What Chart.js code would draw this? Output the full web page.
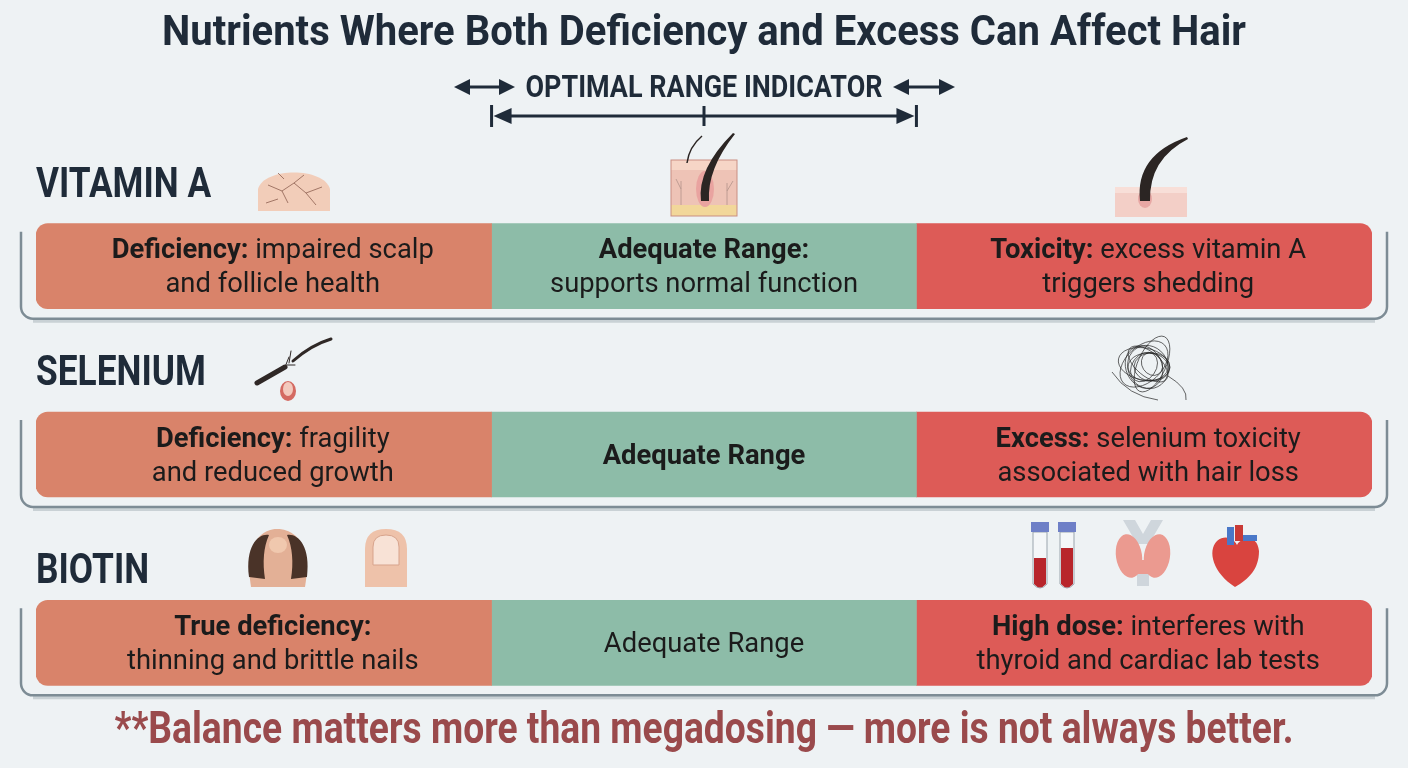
<!DOCTYPE html>
<html lang="en">
<head>
<meta charset="UTF-8">
<title>Nutrients Where Both Deficiency and Excess Can Affect Hair</title>
<script src="https://cdn.jsdelivr.net/npm/chart.js"></script>
<style>
  html, body { margin: 0; padding: 0; background: #eef2f4; }
  #wrap { width: 1408px; height: 768px; position: relative; }
</style>
</head>
<body>
<div id="wrap"><canvas id="chart"></canvas></div>
<script>
// nutrients, top to bottom
const nutrients = ['VITAMIN A', 'SELENIUM', 'BIOTIN'];
// width of each zone, 0-100 scale
const deficiencyZone = [34.1, 34.1, 34.1];
const adequateZone = [31.8, 31.8, 31.8];
const excessZone = [34.1, 34.1, 34.1];
// text shown in each zone, **bold** part marked
const deficiencyText = [
  ['**Deficiency:** impaired scalp', 'and follicle health'],
  ['**Deficiency:** fragility', 'and reduced growth'],
  ['**True deficiency:**', 'thinning and brittle nails']
];
const adequateText = [
  ['**Adequate Range:**', 'supports normal function'],
  ['**Adequate Range**'],
  ['Adequate Range']
];
const excessText = [
  ['**Toxicity:** excess vitamin A', 'triggers shedding'],
  ['**Excess:** selenium toxicity', 'associated with hair loss'],
  ['**High dose:** interferes with', 'thyroid and cardiac lab tests']
];

const FONT = 'Roboto, "Liberation Sans", sans-serif';
const INK = '#1f2b39';

// draw text squeezed to a given width (the original uses a condensed face)
function fitText(ctx, text, cx, baseY, size, width, color) {
  ctx.save();
  ctx.font = 'bold ' + size + 'px ' + FONT;
  const w = ctx.measureText(text).width;
  ctx.translate(cx, baseY);
  ctx.scale(width / w, 1);
  ctx.fillStyle = color;
  ctx.textAlign = 'center';
  ctx.textBaseline = 'alphabetic';
  ctx.fillText(text, 0, 0);
  ctx.restore();
}

function richParts(ctx, line, size) {
  const parts = line.split('**').map((t, i) => ({ t: t, b: i % 2 === 1 })).filter(p => p.t);
  let total = 0;
  parts.forEach(p => {
    ctx.font = (p.b ? 'bold ' : '') + size + 'px ' + FONT;
    p.w = ctx.measureText(p.t).width;
    total += p.w;
  });
  return { parts: parts, total: total };
}

function drawRich(ctx, line, cx, baseY, size, sx) {
  const r = richParts(ctx, line, size);
  ctx.save();
  ctx.translate(cx, baseY);
  ctx.scale(sx, 1);
  ctx.fillStyle = '#1b1b1b';
  ctx.textAlign = 'left';
  ctx.textBaseline = 'alphabetic';
  let x = -r.total / 2;
  r.parts.forEach(p => {
    ctx.font = (p.b ? 'bold ' : '') + size + 'px ' + FONT;
    ctx.fillText(p.t, x, 0);
    x += p.w;
  });
  ctx.restore();
}

function arrowHead(ctx, x, y, dir, len, half) {
  ctx.beginPath();
  ctx.moveTo(x, y);
  ctx.lineTo(x - dir * len, y - half);
  ctx.lineTo(x - dir * len, y + half);
  ctx.closePath();
  ctx.fill();
}

function doubleArrow(ctx, x1, x2, y) {
  ctx.beginPath();
  ctx.moveTo(x1 + 8, y);
  ctx.lineTo(x2 - 8, y);
  ctx.stroke();
  arrowHead(ctx, x1, y, -1, 16, 8);
  arrowHead(ctx, x2, y, 1, 16, 8);
}

// --- small illustrations ---
function iconScalp(ctx, x, y) {
  ctx.save();
  ctx.fillStyle = '#f2cdb9';
  ctx.strokeStyle = '#b98a76';
  ctx.lineWidth = 1;
  ctx.beginPath();
  ctx.moveTo(x, y + 48);
  ctx.lineTo(x, y + 26);
  ctx.bezierCurveTo(x + 6, y + 4, x + 66, y + 4, x + 72, y + 26);
  ctx.lineTo(x + 72, y + 48);
  ctx.closePath();
  ctx.fill();
  ctx.strokeStyle = '#8d6050';
  ctx.lineWidth = 0.8;
  ctx.beginPath();
  ctx.moveTo(x + 10, y + 22); ctx.lineTo(x + 24, y + 28); ctx.lineTo(x + 30, y + 40);
  ctx.moveTo(x + 24, y + 28); ctx.lineTo(x + 36, y + 20); ctx.lineTo(x + 46, y + 12);
  ctx.moveTo(x + 36, y + 20); ctx.lineTo(x + 48, y + 30); ctx.lineTo(x + 58, y + 42);
  ctx.moveTo(x + 48, y + 30); ctx.lineTo(x + 64, y + 24);
  ctx.moveTo(x + 8, y + 40); ctx.lineTo(x + 20, y + 36);
  ctx.moveTo(x + 20, y + 10); ctx.lineTo(x + 26, y + 16);
  ctx.stroke();
  ctx.restore();
}

function iconFollicle(ctx, x, y) {
  ctx.save();
  ctx.fillStyle = '#eec3b6';
  ctx.fillRect(x, y + 27, 66, 56);
  ctx.fillStyle = '#f6d5c6';
  ctx.fillRect(x, y + 27, 66, 10);
  ctx.fillStyle = '#f2d79a';
  ctx.fillRect(x, y + 72, 66, 11);
  ctx.strokeStyle = '#c98e82';
  ctx.lineWidth = 1;
  ctx.strokeRect(x, y + 27, 66, 56);
  ctx.fillStyle = '#e9a3a0';
  ctx.beginPath();
  ctx.ellipse(x + 34, y + 56, 9, 18, 0, 0, Math.PI * 2);
  ctx.fill();
  ctx.fillStyle = '#2b2523';
  ctx.beginPath();
  ctx.moveTo(x + 30, y + 68);
  ctx.quadraticCurveTo(x + 26, y + 36, x + 62, y);
  ctx.lineTo(x + 64, y + 1);
  ctx.quadraticCurveTo(x + 36, y + 36, x + 38, y + 68);
  ctx.closePath();
  ctx.fill();
  ctx.strokeStyle = '#2b2523';
  ctx.lineWidth = 1.5;
  ctx.beginPath();
  ctx.moveTo(x + 16, y + 30);
  ctx.quadraticCurveTo(x + 18, y + 14, x + 31, y + 3);
  ctx.stroke();
  ctx.strokeStyle = '#b3938a';
  ctx.lineWidth = 0.8;
  ctx.beginPath();
  ctx.moveTo(x + 10, y + 72); ctx.lineTo(x + 10, y + 48); ctx.moveTo(x + 10, y + 56); ctx.lineTo(x + 5, y + 46);
  ctx.moveTo(x + 56, y + 72); ctx.lineTo(x + 56, y + 50); ctx.moveTo(x + 56, y + 58); ctx.lineTo(x + 62, y + 48);
  ctx.stroke();
  ctx.restore();
}

function iconHairSkin(ctx, x, y) {
  ctx.save();
  ctx.fillStyle = '#f3cfc7';
  ctx.fillRect(x, y + 50, 72, 30);
  ctx.fillStyle = '#f8dfd8';
  ctx.fillRect(x, y + 50, 72, 6);
  ctx.fillStyle = '#e7a7a4';
  ctx.beginPath();
  ctx.ellipse(x + 30, y + 62, 7, 9, 0, 0, Math.PI * 2);
  ctx.fill();
  ctx.fillStyle = '#2b2523';
  ctx.beginPath();
  ctx.moveTo(x + 25, y + 64);
  ctx.quadraticCurveTo(x + 20, y + 18, x + 72, y);
  ctx.lineTo(x + 73, y + 2);
  ctx.quadraticCurveTo(x + 34, y + 22, x + 35, y + 64);
  ctx.closePath();
  ctx.fill();
  ctx.restore();
}

function iconBrokenHair(ctx, x, y) {
  ctx.save();
  ctx.fillStyle = '#d46a62';
  ctx.beginPath();
  ctx.ellipse(x + 33, y + 54, 8, 10, 0, 0, Math.PI * 2);
  ctx.fill();
  ctx.fillStyle = '#f3c9bd';
  ctx.beginPath();
  ctx.ellipse(x + 33, y + 52, 5, 7, 0, 0, Math.PI * 2);
  ctx.fill();
  ctx.strokeStyle = '#2f2826';
  ctx.lineCap = 'round';
  ctx.lineWidth = 5;
  ctx.beginPath();
  ctx.moveTo(x + 2, y + 46);
  ctx.lineTo(x + 30, y + 30);
  ctx.stroke();
  ctx.lineWidth = 3;
  ctx.beginPath();
  ctx.moveTo(x + 38, y + 24);
  ctx.quadraticCurveTo(x + 56, y + 8, x + 76, y + 2);
  ctx.stroke();
  ctx.lineWidth = 1;
  ctx.beginPath();
  ctx.moveTo(x + 30, y + 30); ctx.lineTo(x + 34, y + 20);
  ctx.moveTo(x + 32, y + 28); ctx.lineTo(x + 40, y + 28);
  ctx.moveTo(x + 34, y + 26); ctx.lineTo(x + 36, y + 14);
  ctx.stroke();
  ctx.restore();
}

function iconTangle(ctx, cx, cy) {
  ctx.save();
  ctx.strokeStyle = 'rgba(30,30,30,0.75)';
  ctx.lineWidth = 0.9;
  const loops = [[26, 16, 0.2], [22, 20, 1.1], [30, 14, 2.0], [18, 22, 2.7], [24, 12, 0.7], [14, 18, 1.6], [28, 18, 2.4], [20, 14, 0.0], [12, 10, 1.0], [16, 12, 2.2]];
  loops.forEach((l, i) => {
    ctx.beginPath();
    ctx.ellipse(cx + (i % 3 - 1) * 4, cy + (i % 2) * 3 - 2, l[0], l[1], l[2], 0, Math.PI * 2);
    ctx.stroke();
  });
  ctx.beginPath();
  ctx.moveTo(cx - 36, cy + 6); ctx.quadraticCurveTo(cx - 20, cy + 30, cx + 10, cy + 34);
  ctx.moveTo(cx + 20, cy + 10); ctx.quadraticCurveTo(cx + 40, cy + 22, cx + 38, cy + 34);
  ctx.stroke();
  ctx.restore();
}

function iconHead(ctx, x, y) {
  ctx.save();
  ctx.fillStyle = '#e3b096';
  ctx.beginPath();
  ctx.moveTo(x + 6, y + 58);
  ctx.bezierCurveTo(x - 2, y + 10, x + 20, y, x + 32, y);
  ctx.bezierCurveTo(x + 46, y, x + 68, y + 10, x + 60, y + 58);
  ctx.closePath();
  ctx.fill();
  ctx.fillStyle = '#4a3328';
  ctx.beginPath();
  ctx.moveTo(x + 4, y + 48);
  ctx.bezierCurveTo(x, y + 16, x + 14, y + 4, x + 24, y + 6);
  ctx.quadraticCurveTo(x + 16, y + 24, x + 20, y + 50);
  ctx.closePath();
  ctx.fill();
  ctx.beginPath();
  ctx.moveTo(x + 62, y + 48);
  ctx.bezierCurveTo(x + 66, y + 16, x + 52, y + 4, x + 42, y + 6);
  ctx.quadraticCurveTo(x + 50, y + 24, x + 46, y + 50);
  ctx.closePath();
  ctx.fill();
  ctx.fillStyle = '#f0c8ae';
  ctx.beginPath();
  ctx.ellipse(x + 33, y + 16, 9, 8, 0, 0, Math.PI * 2);
  ctx.fill();
  ctx.restore();
}

function iconNail(ctx, x, y) {
  ctx.save();
  ctx.fillStyle = '#eec2aa';
  ctx.beginPath();
  ctx.moveTo(x, y + 58);
  ctx.lineTo(x, y + 20);
  ctx.quadraticCurveTo(x, y, x + 21, y);
  ctx.quadraticCurveTo(x + 42, y, x + 42, y + 20);
  ctx.lineTo(x + 42, y + 58);
  ctx.closePath();
  ctx.fill();
  ctx.fillStyle = '#f8e2d6';
  ctx.strokeStyle = '#d7a38c';
  ctx.lineWidth = 1;
  ctx.beginPath();
  ctx.moveTo(x + 8, y + 36);
  ctx.lineTo(x + 8, y + 18);
  ctx.quadraticCurveTo(x + 8, y + 6, x + 21, y + 6);
  ctx.quadraticCurveTo(x + 34, y + 6, x + 34, y + 18);
  ctx.lineTo(x + 34, y + 36);
  ctx.closePath();
  ctx.fill();
  ctx.stroke();
  ctx.restore();
}

function iconTube(ctx, x, y, fillTop) {
  ctx.save();
  ctx.fillStyle = '#f4f6f8';
  ctx.strokeStyle = '#9aa4ad';
  ctx.lineWidth = 1;
  ctx.beginPath();
  ctx.moveTo(x + 2, y + 10);
  ctx.lineTo(x + 2, y + 62);
  ctx.quadraticCurveTo(x + 9, y + 70, x + 16, y + 62);
  ctx.lineTo(x + 16, y + 10);
  ctx.closePath();
  ctx.fill();
  ctx.stroke();
  ctx.fillStyle = '#b8252b';
  ctx.beginPath();
  ctx.moveTo(x + 3, y + fillTop);
  ctx.lineTo(x + 3, y + 62);
  ctx.quadraticCurveTo(x + 9, y + 69, x + 15, y + 62);
  ctx.lineTo(x + 15, y + fillTop);
  ctx.closePath();
  ctx.fill();
  ctx.fillStyle = '#6e7fc7';
  ctx.fillRect(x, y, 18, 10);
  ctx.restore();
}

function iconThyroid(ctx, x, y) {
  ctx.save();
  ctx.fillStyle = '#cfd6dc';
  ctx.beginPath();
  ctx.moveTo(x + 8, y); ctx.lineTo(x + 20, y); ctx.lineTo(x + 28, y + 14); ctx.lineTo(x + 36, y);
  ctx.lineTo(x + 48, y); ctx.lineTo(x + 34, y + 24); ctx.lineTo(x + 22, y + 24);
  ctx.closePath();
  ctx.fill();
  ctx.fillRect(x + 22, y + 52, 12, 14);
  ctx.fillStyle = '#eb9a90';
  ctx.beginPath();
  ctx.ellipse(x + 14, y + 36, 13, 22, -0.15, 0, Math.PI * 2);
  ctx.ellipse(x + 42, y + 36, 13, 22, 0.15, 0, Math.PI * 2);
  ctx.fill();
  ctx.fillRect(x + 18, y + 40, 20, 14);
  ctx.restore();
}

function iconHeart(ctx, x, y) {
  ctx.save();
  ctx.fillStyle = '#d9443f';
  ctx.beginPath();
  ctx.moveTo(x + 26, y + 62);
  ctx.bezierCurveTo(x + 4, y + 48, x - 2, y + 26, x + 8, y + 16);
  ctx.bezierCurveTo(x + 18, y + 8, x + 26, y + 16, x + 28, y + 20);
  ctx.bezierCurveTo(x + 32, y + 12, x + 48, y + 8, x + 50, y + 26);
  ctx.bezierCurveTo(x + 50, y + 44, x + 40, y + 54, x + 26, y + 62);
  ctx.closePath();
  ctx.fill();
  ctx.fillStyle = '#4a78c8';
  ctx.fillRect(x + 18, y + 2, 7, 18);
  ctx.fillRect(x + 34, y + 10, 14, 6);
  ctx.fillStyle = '#c93a36';
  ctx.fillRect(x + 26, y, 8, 16);
  ctx.restore();
}

const decorPlugin = {
  id: 'decor',
  beforeDatasetsDraw(chart) {
    const ctx = chart.ctx;
    const W = chart.width;
    const x = chart.scales.x;

    // title
    fitText(ctx, 'Nutrients Where Both Deficiency and Excess Can Affect Hair', 704, 45, 42, 1084, INK);

    // optimal range indicator, bracket spans the adequate zone
    const left = x.getPixelForValue(deficiencyZone[0]);
    const right = x.getPixelForValue(deficiencyZone[0] + adequateZone[0]);
    const mid = (left + right) / 2;
    fitText(ctx, 'OPTIMAL RANGE INDICATOR', 704, 97, 31, 357, INK);
    ctx.save();
    ctx.strokeStyle = INK;
    ctx.fillStyle = INK;
    ctx.lineWidth = 3;
    doubleArrow(ctx, 454, 515, 87);
    doubleArrow(ctx, 893, 955, 87);
    ctx.beginPath();
    ctx.moveTo(left + 10, 116);
    ctx.lineTo(right - 10, 116);
    ctx.moveTo(left, 105); ctx.lineTo(left, 127);
    ctx.moveTo(right, 105); ctx.lineTo(right, 127);
    ctx.moveTo(mid, 106); ctx.lineTo(mid, 126);
    ctx.stroke();
    arrowHead(ctx, left + 2, 116, -1, 18, 8);
    arrowHead(ctx, right - 2, 116, 1, 18, 8);
    ctx.restore();

    // row frames and nutrient names
    const meta = chart.getDatasetMeta(0);
    const lift = [27, 27, 17];
    meta.data.forEach((el, i) => {
      const p = el.getProps(['y', 'height'], true);
      const top = p.y - p.height / 2;
      const bot = p.y + p.height / 2;
      const fx1 = 21, fx2 = W - 21, fy1 = top + 8, fy2 = bot + 10, r = 12;
      ctx.save();
      ctx.strokeStyle = 'rgba(90,110,120,0.25)';
      ctx.lineWidth = 4;
      ctx.beginPath();
      ctx.moveTo(fx1 + r, fy2 + 2);
      ctx.lineTo(fx2 - r, fy2 + 2);
      ctx.stroke();
      ctx.strokeStyle = '#7d8c95';
      ctx.lineWidth = 2.5;
      ctx.beginPath();
      ctx.moveTo(fx1, fy1);
      ctx.lineTo(fx1, fy2 - r);
      ctx.arcTo(fx1, fy2, fx1 + r, fy2, r);
      ctx.lineTo(fx2 - r, fy2);
      ctx.arcTo(fx2, fy2, fx2, fy2 - r, r);
      ctx.lineTo(fx2, fy1);
      ctx.stroke();
      ctx.restore();

      ctx.save();
      ctx.font = 'bold 42px ' + FONT;
      ctx.translate(36, top - lift[i]);
      ctx.scale(0.84, 1);
      ctx.fillStyle = INK;
      ctx.textBaseline = 'alphabetic';
      ctx.fillText(nutrients[i], 0, 0);
      ctx.restore();
    });

    // illustrations
    iconScalp(ctx, 258, 163);
    iconFollicle(ctx, 671, 133);
    iconHairSkin(ctx, 1115, 137);
    iconBrokenHair(ctx, 255, 337);
    iconTangle(ctx, 1148, 366);
    iconHead(ctx, 245, 529);
    iconNail(ctx, 365, 529);
    iconTube(ctx, 1031, 522, 36);
    iconTube(ctx, 1058, 522, 26);
    iconThyroid(ctx, 1115, 520);
    iconHeart(ctx, 1209, 525);

    // footer note
    fitText(ctx, '**Balance matters more than megadosing \u2014 more is not always better.', 704, 743, 44, 1179, '#9a4a4c');
  },
  afterDatasetsDraw(chart) {
    const ctx = chart.ctx;
    const texts = [deficiencyText, adequateText, excessText];
    const shift = [9, 0, 4];
    const ref = richParts(ctx, deficiencyText[0][0], 27);
    const sx = 322 / ref.total;
    texts.forEach((set, d) => {
      chart.getDatasetMeta(d).data.forEach((el, i) => {
        const p = el.getProps(['x', 'y', 'base'], true);
        const cx = (p.x + p.base) / 2 + shift[d];
        const lines = set[i];
        const startY = p.y - (lines.length - 1) * 17 + 9;
        lines.forEach((ln, k) => drawRich(ctx, ln, cx, startY + k * 34, 27, sx));
      });
    });
  }
};

new Chart(document.getElementById('chart'), {
  type: 'bar',
  data: {
    labels: nutrients,
    datasets: [
      {
        label: 'Deficiency',
        data: deficiencyZone,
        backgroundColor: '#d9836a',
        borderRadius: { topLeft: 12, bottomLeft: 12 },
        borderSkipped: false
      },
      {
        label: 'Adequate',
        data: adequateZone,
        backgroundColor: '#8dbca8',
        borderRadius: 0,
        borderSkipped: false
      },
      {
        label: 'Excess',
        data: excessZone,
        backgroundColor: '#dd5b57',
        borderRadius: { topRight: 12, bottomRight: 12 },
        borderSkipped: false
      }
    ]
  },
  options: {
    indexAxis: 'y',
    responsive: true,
    maintainAspectRatio: false,
    animation: false,
    layout: { padding: { left: 36, right: 36, top: 172, bottom: 31 } },
    barThickness: 85,
    scales: {
      x: { stacked: true, min: 0, max: 100, display: false },
      y: { stacked: true, display: false }
    },
    plugins: {
      legend: { display: false },
      tooltip: { enabled: false }
    }
  },
  plugins: [decorPlugin]
});
</script>
</body>
</html>
